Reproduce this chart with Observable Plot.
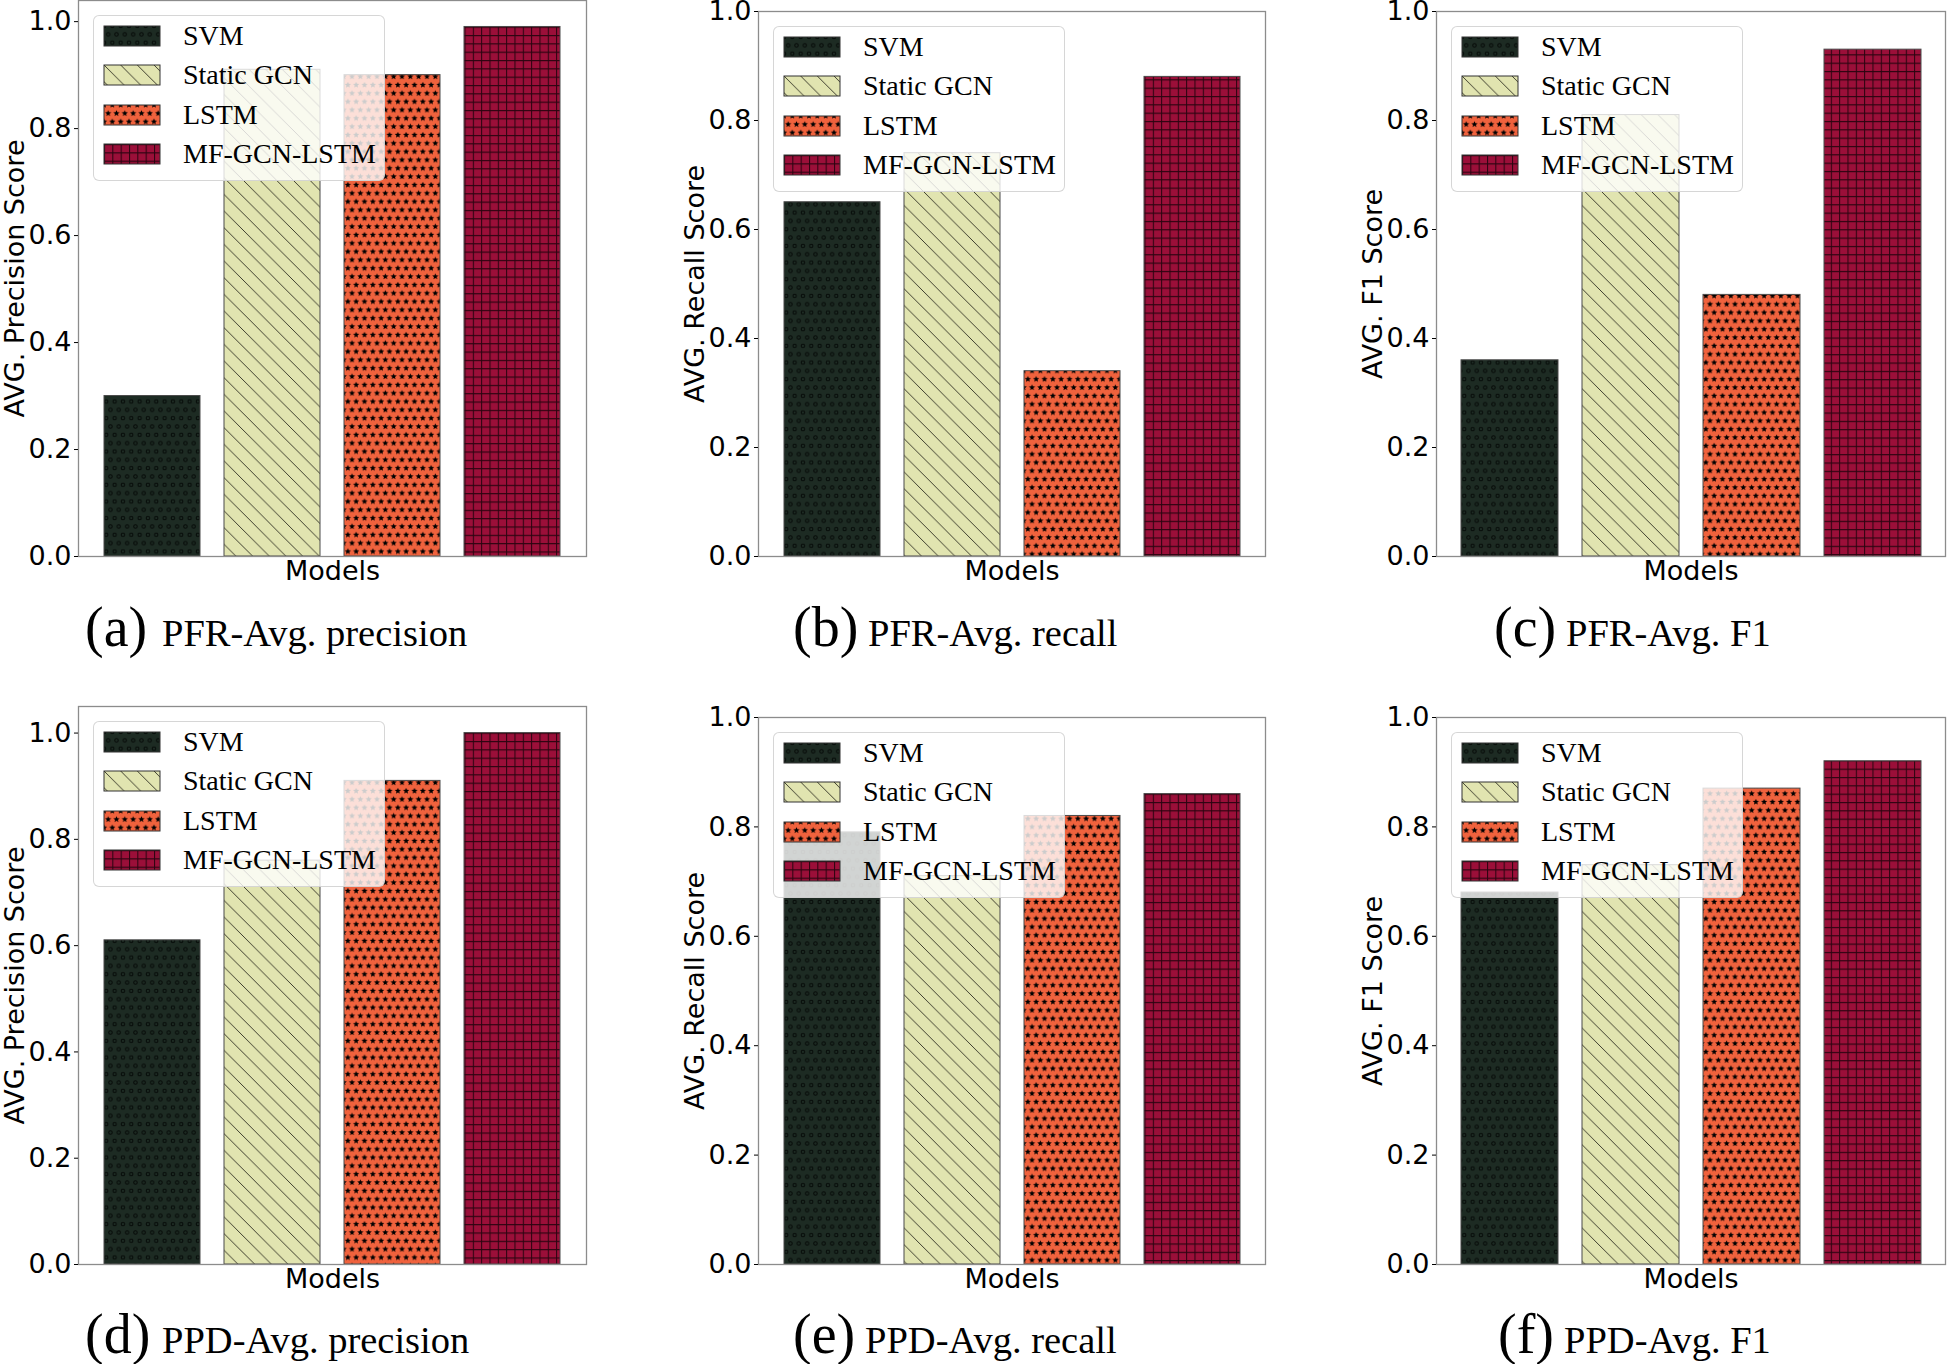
<!DOCTYPE html>
<html><head><meta charset="utf-8">
<script src="https://cdn.jsdelivr.net/npm/d3@7"></script>
<script src="https://cdn.jsdelivr.net/npm/@observablehq/plot@0.6"></script>
<style>
html,body{margin:0;padding:0;background:#fff;}
#page{position:relative;width:1952px;height:1364px;overflow:hidden;background:#fff;}
.panel{position:absolute;}
.panel svg{overflow:visible;background:transparent;}
.legbox{position:absolute;width:292px;height:166px;box-sizing:border-box;background:rgba(255,255,255,0.8);border:1px solid rgba(204,204,204,0.8);border-radius:6px;padding:0 0 0 10px;}
.legbox .lg-swatches{font-family:"Liberation Serif",serif;font-size:28px;margin:0;color:#000;}
.legbox .lg-swatch{height:39.5px;padding:0 !important;display:flex;align-items:center;}
.legbox .lg-swatch > svg{margin-right:23px !important;overflow:visible;}
.legbox .lg-swatch rect{stroke:#333;stroke-width:1;}
#captions{position:absolute;left:0;top:0;}
</style></head>
<body><div id="page"></div>
<script>
// ---- data ----
const models = ["SVM", "Static GCN", "LSTM", "MF-GCN-LSTM"];
const pfrPrecision = [0.30, 0.91, 0.90, 0.99];
const pfrRecall    = [0.65, 0.74, 0.34, 0.88];
const pfrF1        = [0.36, 0.81, 0.48, 0.93];
const ppdPrecision = [0.61, 0.76, 0.91, 1.00];
const ppdRecall    = [0.79, 0.71, 0.82, 0.86];
const ppdF1        = [0.68, 0.73, 0.87, 0.92];
const yTicks = [0.0, 0.2, 0.4, 0.6, 0.8, 1.0];
const yLabels = ["AVG. Precision Score", "AVG. Recall Score", "AVG. F1 Score",
                 "AVG. Precision Score", "AVG. Recall Score", "AVG. F1 Score"];
const xLabel = "Models";
const captionTags = ["(a)", "(b)", "(c)", "(d)", "(e)", "(f)"];
const captionTexts = ["PFR-Avg. precision", "PFR-Avg. recall", "PFR-Avg. F1",
                      "PPD-Avg. precision", "PPD-Avg. recall", "PPD-Avg. F1"];
const yMax = [1.0395, 1.0, 1.0, 1.05, 1.0, 1.0];
const seriesList = [pfrPrecision, pfrRecall, pfrF1, ppdPrecision, ppdRecall, ppdF1];

// ---- styles ----
const fills = ["#1d2b23", "#e1e4b0", "#f0623d", "#9b0f39"];
const patIds = ["pat-svm", "pat-gcn", "pat-lstm", "pat-mf"];
const patUrls = patIds.map(id => `url(#${id})`);

// ---- layout (frame boxes in page px) ----
const frames = [
  {x0: 78,   x1: 586,  y0: 0,   y1: 556},
  {x0: 758,  x1: 1265, y0: 11,  y1: 556},
  {x0: 1436, x1: 1945, y0: 11,  y1: 556},
  {x0: 78,   x1: 586,  y0: 706, y1: 1264},
  {x0: 758,  x1: 1265, y0: 717, y1: 1264},
  {x0: 1436, x1: 1945, y0: 717, y1: 1264}
];
const captionPos = [
  {tx: 85, rx: 162, y: 646}, {tx: 793, rx: 868, y: 646}, {tx: 1494, rx: 1566, y: 646},
  {tx: 85, rx: 162, y: 1353}, {tx: 793, rx: 865, y: 1353}, {tx: 1498, rx: 1564, y: 1353}
];

const page = d3.select("#page");

// ---- hatch patterns ----
const P = 8.33;
const defs = page.append("svg").attr("width", 0).attr("height", 0)
  .style("position", "absolute").append("defs");
function starPath(cx, cy, R, r) {
  let s = "";
  for (let i = 0; i < 10; i++) {
    const a = -Math.PI / 2 + i * Math.PI / 5;
    const rr = i % 2 === 0 ? R : r;
    s += (i === 0 ? "M" : "L") + (cx + rr * Math.cos(a)).toFixed(2) + "," + (cy + rr * Math.sin(a)).toFixed(2);
  }
  return s + "Z";
}
const stagger = [[0, 0], [P, 0], [P / 2, P], [0, 2 * P], [P, 2 * P]];
// SVM: small circles
{
  const pat = defs.append("pattern").attr("id", patIds[0]).attr("patternUnits", "userSpaceOnUse")
    .attr("width", P).attr("height", 2 * P);
  pat.append("rect").attr("width", P).attr("height", 2 * P).attr("fill", fills[0]);
  for (const [cx, cy] of stagger)
    pat.append("circle").attr("cx", cx).attr("cy", cy).attr("r", 1.7)
      .attr("fill", "none").attr("stroke", "#050907").attr("stroke-width", 1);
}
// Static GCN: backslash lines
{
  const Q = 2 * P;
  const pat = defs.append("pattern").attr("id", patIds[1]).attr("patternUnits", "userSpaceOnUse")
    .attr("width", Q).attr("height", Q);
  pat.append("rect").attr("width", Q).attr("height", Q).attr("fill", fills[1]);
  pat.append("path").attr("d", `M${-2},${-2}L${Q + 2},${Q + 2}M${-2},${Q - 2}L${2},${Q + 2}M${Q - 2},${-2}L${Q + 2},${2}`)
    .attr("stroke", "#2a2a1e").attr("stroke-width", 0.9).attr("fill", "none");
}
// LSTM: stars
{
  const pat = defs.append("pattern").attr("id", patIds[2]).attr("patternUnits", "userSpaceOnUse")
    .attr("width", P).attr("height", 2 * P);
  pat.append("rect").attr("width", P).attr("height", 2 * P).attr("fill", fills[2]);
  for (const [cx, cy] of stagger)
    pat.append("path").attr("d", starPath(cx, cy, 3.3, 1.45)).attr("fill", "#000");
}
// MF-GCN-LSTM: grid
{
  const pat = defs.append("pattern").attr("id", patIds[3]).attr("patternUnits", "userSpaceOnUse")
    .attr("width", P).attr("height", P);
  pat.append("rect").attr("width", P).attr("height", P).attr("fill", fills[3]);
  pat.append("path").attr("d", `M0.5,0V${P}M0,0.5H${P}`)
    .attr("stroke", "#2b0410").attr("stroke-width", 1.1).attr("fill", "none");
}

// ---- panels ----
const ML = 80, MR = 5, MT = 15, MB = 40;
seriesList.forEach((vals, i) => {
  const f = frames[i];
  const data = models.map((m, j) => ({model: m, value: vals[j]}));
  const chart = Plot.plot({
    width: (f.x1 - f.x0) + ML + MR,
    height: (f.y1 - f.y0) + MT + MB,
    marginLeft: ML, marginRight: MR, marginTop: MT, marginBottom: MB,
    x: {domain: models, padding: 0.2, axis: null},
    y: {domain: [0, yMax[i]]},
    color: {type: "ordinal", domain: models, range: patUrls},
    style: {background: "transparent", overflow: "visible", fontFamily: "'DejaVu Sans', sans-serif", color: "#000"},
    marks: [
      Plot.barY(data, {x: "model", y: "value", fill: "model", stroke: "#4a4a4a", strokeWidth: 1}),
      Plot.frame({stroke: "#8c8c8c", strokeWidth: 1.3}),
      Plot.axisY({ticks: yTicks, tickFormat: d3.format(".1f"), tickSize: 4, tickPadding: 3,
                  fontSize: 27, label: null}),
      Plot.text([yLabels[i]], {frameAnchor: "left", dx: -63, rotate: -90, textAnchor: "middle",
                               lineAnchor: "middle", fontSize: 27, fill: "#000"}),
      Plot.text([xLabel], {frameAnchor: "bottom", dy: 4, textAnchor: "middle", lineAnchor: "top",
                           fontSize: 27, fill: "#000"})
    ]
  });
  const div = page.append("div").attr("class", "panel")
    .style("left", (f.x0 - ML) + "px").style("top", (f.y0 - MT) + "px");
  div.node().appendChild(chart);

  const leg = Plot.legend({
    color: {type: "ordinal", domain: models, range: patUrls},
    columns: 1, swatchWidth: 56, swatchHeight: 20, className: "lg"
  });
  const lb = page.append("div").attr("class", "legbox")
    .style("left", (f.x0 + 15) + "px").style("top", (f.y0 + 15) + "px");
  lb.node().appendChild(leg);
});

// ---- captions ----
const cap = page.append("svg").attr("id", "captions").attr("width", 1952).attr("height", 1364);
captionTags.forEach((t, i) => {
  const c = captionPos[i];
  const txt = cap.append("text").attr("y", c.y).style("font-family", "'Liberation Serif', serif").attr("fill", "#000");
  txt.append("tspan").attr("x", c.tx).attr("font-size", 56).text(t);
  txt.append("tspan").attr("x", c.rx).attr("font-size", 38.5).text(captionTexts[i]);
});
</script>
</body></html>
